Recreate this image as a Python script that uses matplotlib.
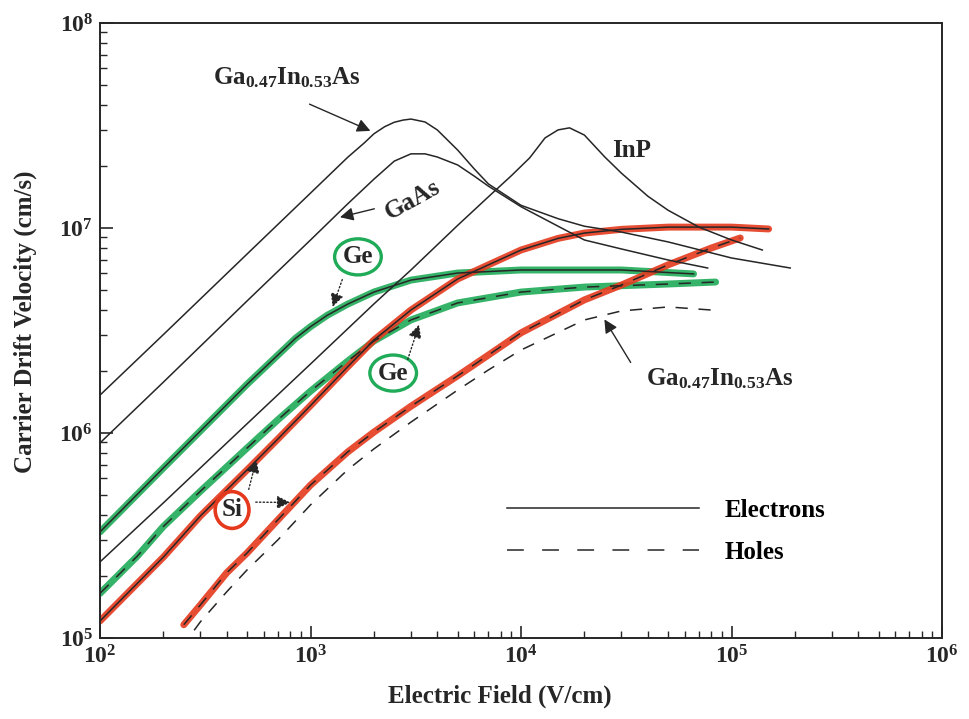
import math
import matplotlib as mpl
mpl.use('Agg')
import matplotlib.pyplot as plt
from matplotlib.lines import Line2D
from matplotlib.ticker import LogLocator, FuncFormatter, NullFormatter

plt.rcParams['font.family'] = ['Liberation Serif', 'DejaVu Serif']
plt.rcParams['font.weight'] = 'bold'
plt.rcParams['axes.labelweight'] = 'bold'
plt.rcParams['mathtext.fontset'] = 'custom'
plt.rcParams['mathtext.rm'] = 'Liberation Serif:bold'
plt.rcParams['mathtext.it'] = 'Liberation Serif:bold:italic'
plt.rcParams['mathtext.bf'] = 'Liberation Serif:bold'
plt.rcParams['mathtext.default'] = 'rm'

# drift velocity (cm/s) against field (V/cm), electrons
gainas_e_field = [1e2, 2e2, 5e2, 1e3, 1.5e3, 1.8e3, 2e3, 2.25e3, 2.5e3, 2.75e3, 3e3, 3.5e3, 4e3,
                  5e3, 6e3, 7e3, 1e4, 1.5e4, 2e4, 3e4, 5e4, 1e5, 1.9e5]
gainas_e_vel = [1.53e6, 3.02e6, 7.47e6, 1.48e7, 2.21e7, 2.60e7, 2.88e7, 3.12e7, 3.28e7, 3.36e7,
                3.40e7, 3.29e7, 3.01e7, 2.40e7, 1.94e7, 1.64e7, 1.29e7, 1.11e7, 1.02e7,
                9.55e6, 8.55e6, 7.14e6, 6.38e6]

gaas_e_field = [1e2, 2e2, 5e2, 1e3, 1.5e3, 2e3, 2.5e3, 3e3, 3.5e3, 4e3, 5e3, 6e3, 7e3,
                1e4, 1.5e4, 2e4, 3e4, 5e4, 7.7e4]
gaas_e_vel = [8.94e5, 1.77e6, 4.41e6, 8.74e6, 1.31e7, 1.73e7, 2.12e7, 2.30e7, 2.30e7, 2.22e7,
              2.03e7, 1.79e7, 1.60e7, 1.27e7, 1.02e7, 8.74e6, 7.90e6, 6.98e6, 6.38e6]

inp_e_field = [1e2, 2e2, 5e2, 1e3, 2e3, 3e3, 5e3, 7e3, 9e3, 1.1e4, 1.3e4, 1.5e4, 1.7e4, 2e4,
               2.5e4, 3e4, 4e4, 5e4, 7e4, 1e5, 1.4e5]
inp_e_vel = [2.35e5, 4.56e5, 1.11e6, 2.17e6, 4.26e6, 6.24e6, 1.03e7, 1.42e7, 1.80e7, 2.20e7,
             2.75e7, 3.01e7, 3.08e7, 2.84e7, 2.22e7, 1.85e7, 1.43e7, 1.22e7, 1.01e7, 8.74e6,
             7.81e6]

ge_e_field = [1e2, 2e2, 5e2, 7e2, 8.5e2, 1e3, 1.2e3, 1.5e3, 2e3, 3e3, 5e3, 1e4, 3e4, 6.6e4]
ge_e_vel = [3.29e5, 6.75e5, 1.73e6, 2.40e6, 2.90e6, 3.30e6, 3.75e6, 4.25e6, 4.87e6, 5.57e6,
            6.03e6, 6.24e6, 6.24e6, 5.97e6]

si_e_field = [1e2, 2e2, 3e2, 5e2, 7e2, 1e3, 1.5e3, 2e3, 3e3, 5e3, 7e3, 1e4, 1.5e4, 2e4, 3e4,
              5e4, 1e5, 1.5e5]
si_e_vel = [1.21e5, 2.48e5, 3.94e5, 6.61e5, 9.35e5, 1.36e6, 2.10e6, 2.84e6, 3.98e6, 5.64e6,
            6.61e6, 7.81e6, 8.90e6, 9.45e6, 9.85e6, 1.01e7, 1.01e7, 9.89e6]

# holes
ge_h_field = [1e2, 1.5e2, 2e2, 3e2, 5e2, 7e2, 1e3, 1.5e3, 2e3, 3e3, 5e3, 1e4, 2e4, 5e4, 8.4e4]
ge_h_vel = [1.65e5, 2.50e5, 3.50e5, 5.20e5, 8.45e5, 1.16e6, 1.60e6, 2.24e6, 2.81e6, 3.56e6,
            4.31e6, 4.87e6, 5.15e6, 5.33e6, 5.45e6]

si_h_field = [2.5e2, 3e2, 4e2, 5e2, 7e2, 1e3, 1.5e3, 2e3, 3e3, 5e3, 7e3, 1e4, 2e4, 3e4,
              5e4, 8e4, 1.1e5]
si_h_vel = [1.16e5, 1.45e5, 2.08e5, 2.60e5, 3.77e5, 5.57e5, 8.07e5, 1.01e6, 1.35e6, 1.90e6,
            2.40e6, 3.08e6, 4.46e6, 5.27e6, 6.61e6, 7.98e6, 8.94e6]

gainas_h_field = [2.8e2, 3e2, 4e2, 5e2, 7e2, 1e3, 1.5e3, 2e3, 3e3, 5e3, 7e3, 1e4, 2e4, 3e4,
                  5e4, 8e4]
gainas_h_vel = [1.09e5, 1.20e5, 1.68e5, 2.15e5, 3.01e5, 4.46e5, 6.61e5, 8.36e5, 1.13e6, 1.62e6,
                2.03e6, 2.54e6, 3.56e6, 3.94e6, 4.12e6, 3.98e6]

ink = '#262626'
green = '#1fab58'
red = '#e5391d'
hole_dash = (0, (8, 7))

fig = plt.figure(figsize=(9.69, 7.19), dpi=100)
ax = fig.add_axes([0.1032, 0.1127, 0.8690, 0.8553])
ax.set_xscale('log')
ax.set_yscale('log')
ax.set_xlim(1e2, 1e6)
ax.set_ylim(1e5, 1e8)

# marker-pen highlights under the Ge and Si curves
hl = dict(lw=5, solid_capstyle='round', solid_joinstyle='round', alpha=0.9, zorder=2)
ax.plot(ge_e_field, ge_e_vel, color=green, **hl)
ax.plot(ge_h_field, ge_h_vel, color=green, **hl)
ax.plot(si_e_field, si_e_vel, color=red, **hl)
ax.plot(si_h_field, si_h_vel, color=red, **hl)

ln = dict(color=ink, lw=1.1, zorder=3, solid_joinstyle='round')
ax.plot(gainas_e_field, gainas_e_vel, **ln)
ax.plot(gaas_e_field, gaas_e_vel, **ln)
ax.plot(inp_e_field, inp_e_vel, **ln)
ax.plot(ge_e_field, ge_e_vel, **ln)
ax.plot(si_e_field, si_e_vel, **ln)
ax.plot(ge_h_field, ge_h_vel, linestyle=hole_dash, **ln)
ax.plot(si_h_field, si_h_vel, linestyle=hole_dash, **ln)
ax.plot(gainas_h_field, gainas_h_vel, linestyle=hole_dash, **ln)

# curve labels
fs = 18
arrow = dict(arrowstyle='-|>', color=ink, lw=1.0, mutation_scale=20)
dotted_arrow = dict(arrow, ls=':')

ax.text(773, 5.4e7, r'Ga$_{0.47}$In$_{0.53}$As', fontsize=fs, ha='center', va='center', color=ink)
ax.annotate('', xy=(1.98e3, 2.94e7), xytext=(962, 4.07e7), arrowprops=arrow)

ax.text(3.07e3, 1.37e7, 'GaAs', fontsize=fs, rotation=29, ha='center', va='center', color=ink)
ax.annotate('', xy=(1.34e3, 1.12e7), xytext=(2.07e3, 1.25e7), arrowprops=arrow)

ax.text(3.37e4, 2.4e7, 'InP', fontsize=fs, ha='center', va='center', color=ink)

ax.text(1.68e3, 7.23e6, 'Ge', fontsize=fs, ha='center', va='center', color=ink,
        bbox=dict(boxstyle='ellipse,pad=0.05', fc='none', ec=green, lw=2.4))
ax.annotate('', xy=(1.26e3, 4.0e6), xytext=(1.43e3, 5.77e6), arrowprops=dotted_arrow)

ax.text(2.47e3, 1.96e6, 'Ge', fontsize=fs, ha='center', va='center', color=ink,
        bbox=dict(boxstyle='ellipse,pad=0.05', fc='none', ec=green, lw=2.4))
ax.annotate('', xy=(3.31e3, 3.48e6), xytext=(2.87e3, 2.22e6), arrowprops=dotted_arrow)

ax.text(424, 4.21e5, 'Si', fontsize=fs, ha='center', va='center', color=ink,
        bbox=dict(boxstyle='ellipse,pad=0.06', fc='none', ec=red, lw=2.6))
ax.annotate('', xy=(557, 7.64e5), xytext=(505, 5.15e5), arrowprops=dotted_arrow)
ax.annotate('', xy=(826, 4.58e5), xytext=(533, 4.6e5), arrowprops=dotted_arrow)

ax.text(8.81e4, 1.85e6, r'Ga$_{0.47}$In$_{0.53}$As', fontsize=fs, ha='center', va='center', color=ink)
ax.annotate('', xy=(2.45e4, 3.68e6), xytext=(3.37e4, 2.15e6), arrowprops=arrow)

handles = [Line2D([], [], color=ink, lw=1.1),
           Line2D([], [], color=ink, lw=1.1, linestyle=(0, (11, 12)))]
ax.legend(handles, ['Electrons', 'Holes'], loc='upper left', bbox_to_anchor=(0.483, 0.226),
          frameon=False, fontsize=fs, handlelength=7.7, handletextpad=1.0,
          labelspacing=0.75, borderpad=0, borderaxespad=0)

# axes frame and ticks
for s in ax.spines.values():
    s.set_color(ink)
    s.set_linewidth(1.4)
for axis in (ax.xaxis, ax.yaxis):
    axis.set_major_locator(LogLocator(base=10, numticks=10))
    axis.set_minor_locator(LogLocator(base=10, subs=range(2, 10), numticks=10))
    axis.set_major_formatter(FuncFormatter(lambda v, p: r'$10^{%d}$' % round(math.log10(v))))
    axis.set_minor_formatter(NullFormatter())
ax.tick_params(which='both', direction='in', top=False, right=False, colors=ink,
               labelsize=17, pad=5)
ax.tick_params(which='major', length=9, width=1.2)
ax.tick_params(which='minor', length=5, width=1.0)

ax.set_xlabel('Electric Field (V/cm)', fontsize=fs, color=ink)
ax.set_ylabel('Carrier Drift Velocity (cm/s)', fontsize=fs, color=ink)
ax.xaxis.set_label_coords(0.475, -0.075)
ax.yaxis.set_label_coords(-0.075, 0.515)

fig.savefig('out.png', dpi=100)
